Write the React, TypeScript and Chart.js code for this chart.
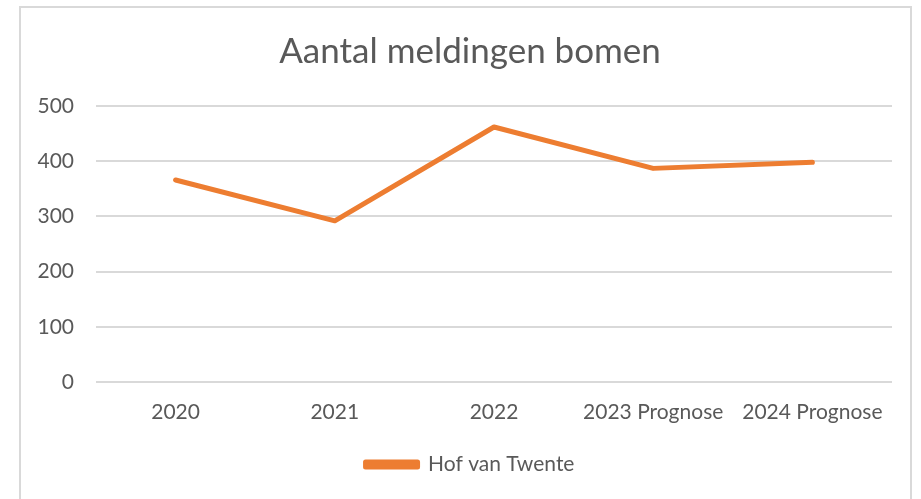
import React, { useEffect, useRef } from "react";
import { Chart, registerables } from "chart.js";

Chart.register(...registerables);

const categories = ["2020", "2021", "2022", "2023 Prognose", "2024 Prognose"];
const seriesName = "Hof van Twente";
const seriesValues = [366, 292, 462, 387, 398];
const yTicks = [0, 100, 200, 300, 400, 500];
const titleText = "Aantal meldingen bomen";

const FONT = "Lato, 'Noto Sans', sans-serif";
const TEXT = "#595959";
const GRID = "#d9d9d9";
const ORANGE = "#ED7D31";

// Shift title and legend so they are centred on the chart frame, not the canvas.
const centerShift = {
  id: "centerShift",
  afterLayout(chart: any) {
    const dx = 24;
    const boxes = [chart.titleBlock, chart.legend];
    for (const b of boxes) {
      if (b) {
        b.left += dx;
        b.right += dx;
      }
    }
  },
};

export default function App() {
  const ref = useRef<HTMLCanvasElement | null>(null);
  useEffect(() => {
    if (!ref.current) return;
    const chart = new Chart(ref.current, {
      type: "line",
      data: {
        labels: categories,
        datasets: [
          {
            label: seriesName,
            data: seriesValues,
            borderColor: ORANGE,
            backgroundColor: ORANGE,
            borderWidth: 5,
            pointRadius: 0,
            tension: 0,
            borderCapStyle: "round",
            borderJoinStyle: "round",
          },
        ],
      },
      plugins: [centerShift],
      options: {
        animation: false,
        responsive: false,
        layout: { padding: { left: 0, right: 29, top: 31, bottom: 14 } },
        plugins: {
          title: {
            display: true,
            text: titleText,
            color: TEXT,
            font: { family: FONT, size: 35, weight: "normal" },
            padding: { top: 0, bottom: 33 },
          },
          legend: {
            position: "bottom",
            labels: {
              color: TEXT,
              font: { family: FONT, size: 21 },
              boxWidth: 52,
              boxHeight: 5,
              padding: 8,
            },
          },
          tooltip: { enabled: false },
        },
        scales: {
          x: {
            offset: true,
            grid: { display: false, drawTicks: false },
            border: { display: false },
            ticks: {
              color: TEXT,
              font: { family: FONT, size: 21 },
              maxRotation: 0,
              autoSkip: false,
              padding: 18,
            },
            afterFit: (s: any) => {
              s.height = 64;
            },
          },
          y: {
            min: 0,
            max: 500,
            afterBuildTicks: (s: any) => {
              s.ticks = yTicks.map((v) => ({ value: v }));
            },
            grid: { color: GRID, lineWidth: 2, drawTicks: false },
            border: { display: false },
            ticks: {
              color: TEXT,
              font: { family: FONT, size: 21 },
              padding: 22,
            },
            afterFit: (s: any) => {
              s.width = 96;
            },
          },
        },
      },
    });
    return () => chart.destroy();
  }, []);
  return (
    <div style={{ position: "fixed", left: 0, top: 0, width: 921, height: 499, background: "#fff", overflow: "hidden" }}>
      <div
        style={{
          position: "absolute",
          left: 19,
          top: 6,
          width: 893,
          height: 520,
          border: "2px solid #d9d9d9",
          boxSizing: "border-box",
        }}
      />
      <canvas ref={ref} width={921} height={499} style={{ position: "absolute", left: 0, top: 0 }} />
    </div>
  );
}
